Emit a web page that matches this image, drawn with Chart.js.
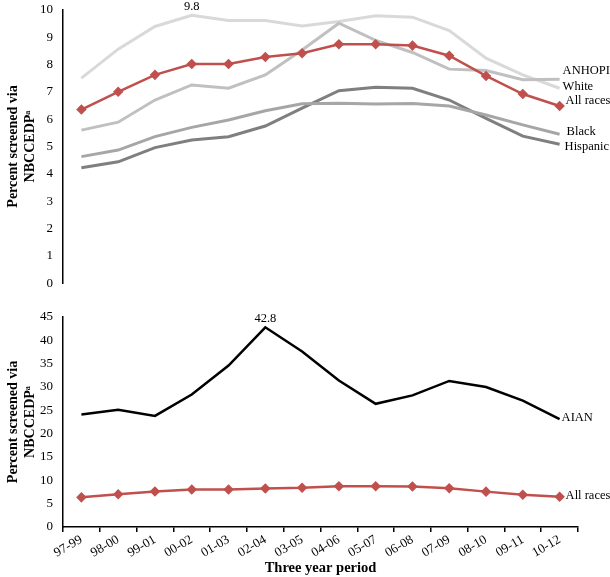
<!DOCTYPE html>
<html>
<head>
<meta charset="utf-8">
<script src="https://cdn.jsdelivr.net/npm/chart.js@4/dist/chart.umd.min.js"></script>
<style>
  body { margin: 0; background: #fff; }
  #top, #bottom { position: absolute; left: 0; }
  #top { top: 0; z-index: 2; }
  #bottom { top: 290px; }
</style>
</head>
<body>
<div id="top"><canvas id="topChart" width="610" height="293"></canvas></div>
<div id="bottom"><canvas id="bottomChart" width="610" height="287"></canvas></div>
<script>
// three year periods
const periods = ['97-99', '98-00', '99-01', '00-02', '01-03', '02-04', '03-05',
  '04-06', '05-07', '06-08', '07-09', '08-10', '09-11', '10-12'];

// percent screened via NBCCEDP
const allRaces = [6.35, 7.0, 7.62, 8.02, 8.02, 8.27, 8.41, 8.74, 8.74, 8.69, 8.32, 7.58, 6.92, 6.48];
const white    = [7.5, 8.56, 9.39, 9.8, 9.61, 9.61, 9.41, 9.57, 9.78, 9.73, 9.24, 8.23, 7.62, 7.13];
const anhopi   = [5.6, 5.89, 6.7, 7.25, 7.13, 7.62, 8.53, 9.51, 8.88, 8.44, 7.83, 7.78, 7.44, 7.46];
const black    = [4.63, 4.87, 5.36, 5.7, 5.97, 6.31, 6.56, 6.58, 6.55, 6.57, 6.48, 6.15, 5.79, 5.45];
const hispanic = [4.22, 4.44, 4.96, 5.24, 5.36, 5.75, 6.4, 7.04, 7.17, 7.13, 6.7, 6.03, 5.38, 5.08];
const aian     = [24.1, 25.1, 23.8, 28.4, 34.6, 42.8, 37.6, 31.4, 26.4, 28.2, 31.3, 30.0, 27.1, 23.1];

const topTicks = [0, 10, 1];      // min, max, step
const bottomTicks = [0, 45, 5];

const serif = "'Liberation Serif', 'Times New Roman', serif";
const red = '#c0504d';

// end labels + peak labels drawn next to the data points
const lineLabels = {
  id: 'lineLabels',
  afterDatasetsDraw(chart) {
    const ctx = chart.ctx;
    ctx.save();
    ctx.font = '12.5px ' + serif;
    ctx.fillStyle = '#000';
    ctx.textBaseline = 'middle';
    chart.data.datasets.forEach((ds, i) => {
      const meta = chart.getDatasetMeta(i);
      const last = meta.data[meta.data.length - 1];
      ctx.textAlign = 'left';
      ctx.fillText(ds.label, last.x + (ds.dx || 3), last.y + (ds.dy || 0));
      if (ds.peak != null) {
        const pt = meta.data[ds.peak];
        ctx.textAlign = 'center';
        ctx.fillText(String(ds.data[ds.peak]), pt.x, pt.y - 9);
      }
    });
    ctx.restore();
  }
};

const yTitle = {
  display: true,
  text: ['Percent screened via', 'NBCCEDPᵃ'],
  font: { family: serif, size: 14, weight: 'bold' },
  color: '#000',
  padding: { top: 5, bottom: 0 }
};

function yScale(t) {
  return {
    min: t[0], max: t[1],
    ticks: { stepSize: t[2], font: { family: serif, size: 13 }, color: '#000', padding: 2 },
    grid: { display: false },
    border: { display: true, color: '#000', width: 1.5 },
    title: yTitle,
    afterFit(scale) { scale.width = 63; }
  };
}

function line(label, data, color, width, extra) {
  return Object.assign({
    label: label,
    data: data,
    borderColor: color,
    backgroundColor: color,
    borderWidth: width,
    pointRadius: 0,
    tension: 0,
    fill: false
  }, extra || {});
}

const redExtra = { pointStyle: 'rectRot', pointRadius: 3.5, pointBackgroundColor: red, pointBorderColor: red };

new Chart(document.getElementById('topChart'), {
  type: 'line',
  data: {
    labels: periods,
    datasets: [
      line('All races', allRaces, red, 2.5, Object.assign({ dx: 6, dy: -5 }, redExtra)),
      line('ANHOPI', anhopi, '#c0c0c0', 3, { dy: -9 }),
      line('White', white, '#d9d9d9', 3, { dy: -2, peak: 3 }),
      line('Black', black, '#a6a6a6', 3, { dx: 7, dy: -2 }),
      line('Hispanic', hispanic, '#7f7f7f', 3, { dx: 5, dy: 2 })
    ]
  },
  options: {
    responsive: false,
    animation: false,
    layout: { padding: { top: 9, right: 32, bottom: 0, left: 0 } },
    plugins: { legend: { display: false }, tooltip: { enabled: false } },
    scales: {
      x: { type: 'category', offset: true, display: false },
      y: yScale(topTicks)
    }
  },
  plugins: [lineLabels]
});

new Chart(document.getElementById('bottomChart'), {
  type: 'line',
  data: {
    labels: periods,
    datasets: [
      line('All races', allRaces, red, 2.5, Object.assign({ dx: 6, dy: -1 }, redExtra)),
      line('AIAN', aian, '#000', 2.5, { dx: 2, dy: -1, peak: 5 })
    ]
  },
  options: {
    responsive: false,
    animation: false,
    layout: { padding: { top: 27, right: 32, bottom: 0, left: 0 } },
    plugins: { legend: { display: false }, tooltip: { enabled: false } },
    scales: {
      x: {
        type: 'category',
        offset: true,
        grid: { offset: true, drawOnChartArea: false, drawTicks: true, tickLength: 5, color: '#000', lineWidth: 1.5 },
        border: { display: true, color: '#000', width: 1.5 },
        ticks: { font: { family: serif, size: 13 }, color: '#000', minRotation: 30, maxRotation: 30, autoSkip: false, padding: 0 },
        title: {
          display: true,
          text: 'Three year period',
          font: { family: serif, size: 14.5, weight: 'bold' },
          color: '#000',
          padding: { top: 0, bottom: 0 }
        },
        afterFit(scale) { scale.height = 50; }
      },
      y: yScale(bottomTicks)
    }
  },
  plugins: [lineLabels]
});
</script>
</body>
</html>
